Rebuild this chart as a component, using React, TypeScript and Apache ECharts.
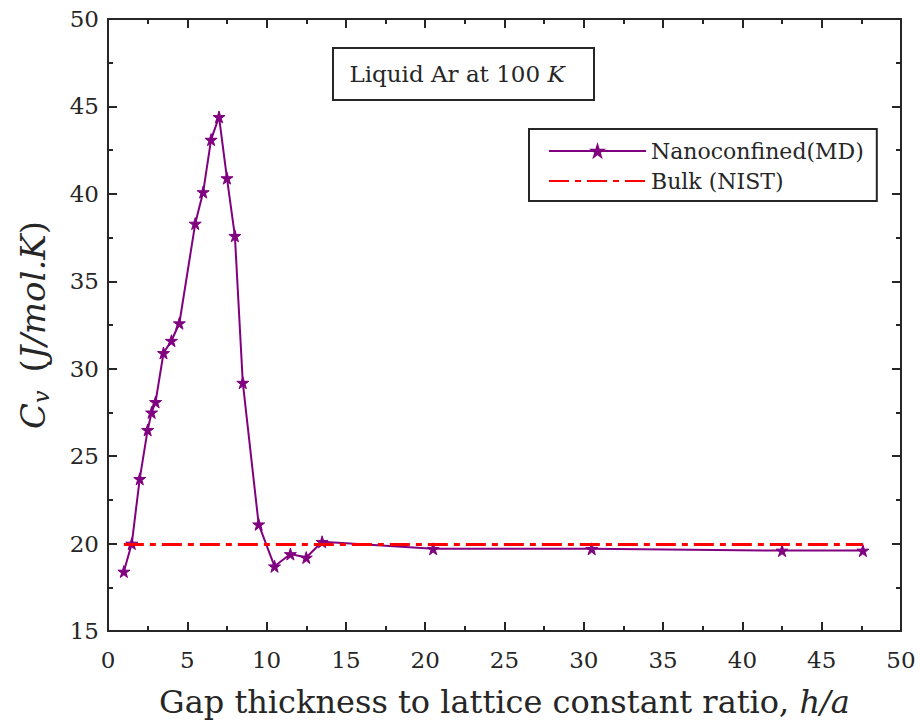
import React, { useEffect, useRef } from "react";
import * as echarts from "echarts";

const mdX = [1, 1.5, 2, 2.5, 2.75, 3, 3.5, 4, 4.5, 5.5, 6, 6.5, 7, 7.5, 8, 8.5, 9.5, 10.5, 11.5, 12.5, 13.5, 20.5, 30.5, 42.5, 47.6];
const mdY = [18.4, 20.0, 23.7, 26.5, 27.5, 28.1, 30.9, 31.6, 32.6, 38.3, 40.1, 43.1, 44.4, 40.9, 37.6, 29.2, 21.1, 18.7, 19.4, 19.2, 20.1, 19.7, 19.7, 19.6, 19.6];
const bulkX = [1, 47.6];
const bulkY = [19.95, 19.95];
const xTicks = { min: 0, max: 50, interval: 5 };
const yTicks = { min: 15, max: 50, interval: 5 };

const FONT = "'DejaVu Serif', 'Liberation Serif', serif";
const AX = "#262626";
const STAR = "path://M50,0 L61,35 L98,35 L68,57 L79,91 L50,70 L21,91 L32,57 L2,35 L39,35 Z";

export default function App() {
  const ref = useRef<HTMLDivElement>(null);
  useEffect(() => {
    const chart = echarts.init(ref.current!, null, { renderer: "svg" });
    const axisCommon = {
      axisLine: { show: true, onZero: false, lineStyle: { color: AX, width: 2 } },
      axisTick: { show: true, inside: true, length: 9, lineStyle: { color: AX, width: 2 } },
      minorTick: { show: true, splitNumber: 2, length: 5, lineStyle: { color: AX, width: 2 } },
      splitLine: { show: false },
    };
    chart.setOption({
      animation: false,
      backgroundColor: "#fff",
      grid: { left: 108, right: 19, top: 19, bottom: 92, containLabel: false },
      xAxis: [
        {
          type: "value", position: "bottom", ...xTicks, ...axisCommon,
          axisLabel: { fontFamily: FONT, fontSize: 23, color: AX, margin: 17 },
          name: "Gap thickness to lattice constant ratio, {i|h/a}",
          nameLocation: "middle", nameGap: 55,
          nameTextStyle: { fontFamily: FONT, fontSize: 32, color: AX, rich: { i: { fontFamily: FONT, fontSize: 32, fontStyle: "italic", color: AX } } },
        },
        {
          type: "value", position: "top", ...xTicks, ...axisCommon,
          axisLabel: { show: false },
        },
      ],
      yAxis: [
        {
          type: "value", position: "left", ...yTicks, ...axisCommon,
          axisLabel: { fontFamily: FONT, fontSize: 23, color: AX, margin: 9 },
          name: "{i|C}{s|v}{n|(}{i|J/mol.K}{n|)}",
          nameLocation: "middle", nameGap: 56,
          nameTextStyle: {
            fontFamily: FONT, fontSize: 34, color: AX,
            rich: {
              i: { fontFamily: FONT, fontSize: 34, fontStyle: "italic", color: AX },
              s: { fontFamily: FONT, fontSize: 22, fontStyle: "italic", color: AX, verticalAlign: "bottom", padding: [16, 18, 0, 0] },
              n: { fontFamily: FONT, fontSize: 34, color: AX },
            },
          },
        },
        {
          type: "value", position: "right", ...yTicks, ...axisCommon,
          axisLabel: { show: false },
        },
      ],
      legend: {
        orient: "vertical", left: 529, top: 129,
        backgroundColor: "#fff",
        borderColor: AX, borderWidth: 2, borderRadius: 0,
        padding: [11, 13, 9, 19],
        itemWidth: 97, itemHeight: 14, itemGap: 8,
        textStyle: { fontFamily: FONT, fontSize: 22, color: AX },
        data: [
          { name: "Nanoconfined(MD)" },
          { name: "Bulk (NIST)", itemStyle: { opacity: 0 } },
        ],
      },
      series: [
        {
          name: "Nanoconfined(MD)", type: "line",
          data: mdX.map((x, i) => [x, mdY[i]]),
          symbol: STAR, symbolSize: 12,
          lineStyle: { color: "#800080", width: 2 },
          itemStyle: { color: "#800080", borderColor: "#800080", borderWidth: 1 },
          z: 3,
        },
        {
          name: "Bulk (NIST)", type: "line",
          data: bulkX.map((x, i) => [x, bulkY[i]]),
          symbol: "none", showSymbol: false,
          lineStyle: { color: "#ff0000", width: 3, type: [20, 6, 6, 6] },
          itemStyle: { color: "#ff0000" },
          z: 4,
        },
      ],
      graphic: [
        {
          type: "rect", shape: { x: 333, y: 48, width: 261, height: 52 },
          style: { fill: "#fff", stroke: AX, lineWidth: 2 },
        },
        {
          type: "text", x: 457, y: 74,
          style: {
            text: "Liquid Ar at 100 {i|K}",
            fontFamily: FONT, fontSize: 23, fill: AX, align: "center", verticalAlign: "middle",
            rich: { i: { fontFamily: FONT, fontSize: 23, fontStyle: "italic", fill: AX } },
          },
        },
      ],
    });
    return () => chart.dispose();
  }, []);
  return <div ref={ref} style={{ width: 920, height: 723, position: "absolute", left: 0, top: 0 }} />;
}
